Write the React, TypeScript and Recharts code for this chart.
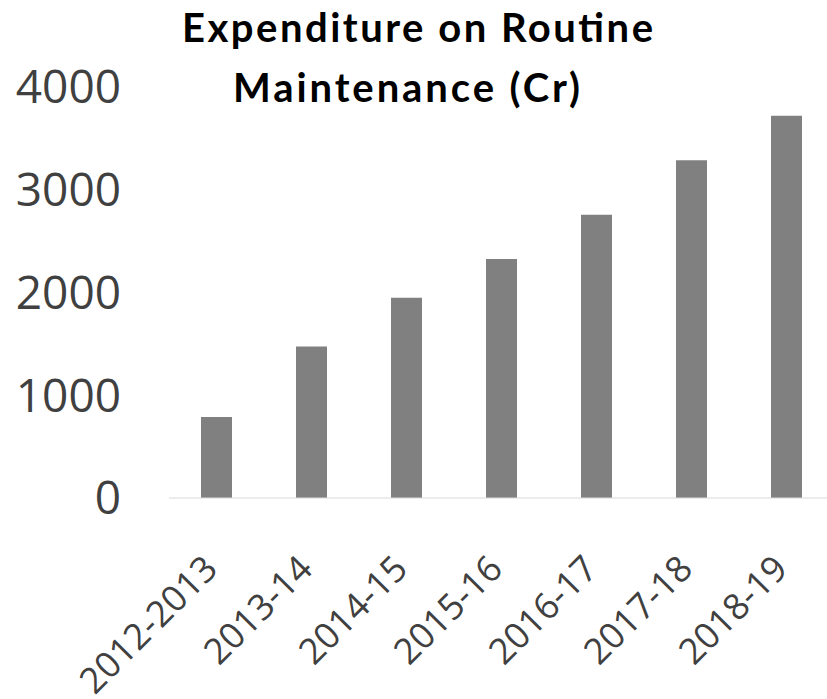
import React from 'react'
import { BarChart, Bar, XAxis, YAxis } from 'recharts'

const years = ['2012-2013', '2013-14', '2014-15', '2015-16', '2016-17', '2017-18', '2018-19']
const spending = [788, 1475, 1950, 2326, 2757, 3286, 3721]
const yTicks = [0, 1000, 2000, 3000, 4000]

const data = years.map((year, i) => ({ year, spending: spending[i] }))

const YearTick = (props: any) => {
  const { x, y, payload } = props
  const px = x + 3
  const py = y + 73
  return (
    <text
      x={px}
      y={py}
      textAnchor='end'
      transform={`rotate(-45, ${px}, ${py})`}
      fill='#404040'
      fontSize={36}
      fontFamily='Open Sans'
    >
      {payload.value}
    </text>
  )
}

export default function App() {
  return (
    <div style={{ position: 'absolute', left: 0, top: 0, width: 827, height: 699, overflow: 'hidden', background: '#fff' }}>
      <BarChart
        width={840}
        height={699}
        data={data}
        margin={{ top: 87, right: 6, left: 0, bottom: 0 }}
      >
        <XAxis
          dataKey='year'
          height={201}
          interval={0}
          tickLine={false}
          tickSize={0}
          tickMargin={0}
          axisLine={{ stroke: '#d9d9d9', strokeWidth: 1 }}
          tick={<YearTick />}
        />
        <YAxis
          width={169}
          domain={[0, 4000]}
          ticks={yTicks}
          axisLine={false}
          tickLine={false}
          tickSize={0}
          tickMargin={48}
          tick={{ fill: '#404040', fontSize: 46, fontFamily: 'Open Sans' }}
        />
        <Bar dataKey='spending' fill='#808080' barSize={31} isAnimationActive={false} />
      </BarChart>
      <svg width={827} height={120} style={{ position: 'absolute', left: 0, top: 0, pointerEvents: 'none' }}>
        <text x={182} y={42} textLength={471} fontSize={40} fontWeight='bold' fontFamily='Lato' fill='#000'>
          Expenditure on Routine
        </text>
        <text x={233} y={102} textLength={347} fontSize={40} fontWeight='bold' fontFamily='Lato' fill='#000'>
          Maintenance (Cr)
        </text>
      </svg>
    </div>
  )
}
